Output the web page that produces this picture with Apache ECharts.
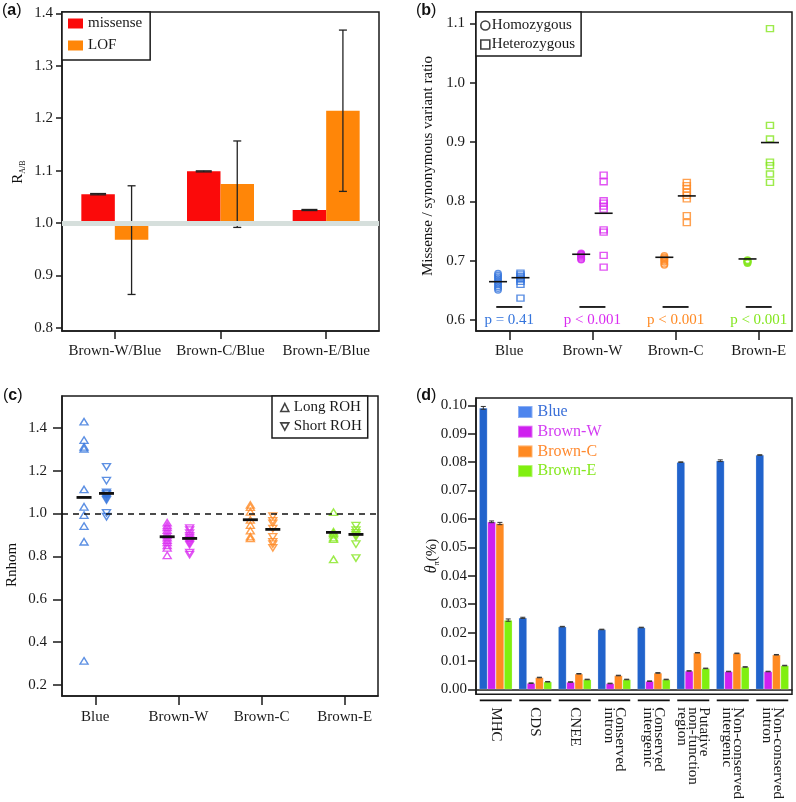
<!DOCTYPE html>
<html><head><meta charset="utf-8">
<script src="https://cdn.jsdelivr.net/npm/echarts@6/dist/echarts.min.js"></script>
<style>html,body{margin:0;padding:0;background:#fff}#c{width:796px;height:802px}</style>
</head><body><div id="c"></div>
<script>
// ---------- Panel (a) ----------
const ratioCats = ['Brown-W/Blue', 'Brown-C/Blue', 'Brown-E/Blue'];
const missenseR = [1.055, 1.0985, 1.0248];
const missenseErr = [0.0012, 0.0010, 0.0010];
const lofR = [0.968, 1.0744, 1.2143];
const lofLow = [0.8637, 0.9916, 1.0603];
const lofHigh = [1.071, 1.1565, 1.368];
const ratioTicksA = [0.8, 0.9, 1.0, 1.1, 1.2, 1.3, 1.4];

// ---------- Panel (b) ----------
const popGroups = ['Blue', 'Brown-W', 'Brown-C', 'Brown-E'];
const homRatioBlue = [0.678, 0.675, 0.672, 0.669, 0.666, 0.663, 0.660, 0.657, 0.654, 0.651];
const homRatioBrownW = [0.712, 0.711, 0.710, 0.709, 0.707, 0.705, 0.703, 0.702];
const homRatioBrownC = [0.708, 0.706, 0.704, 0.702, 0.700, 0.698, 0.695, 0.693];
const homRatioBrownE = [0.701, 0.700, 0.699, 0.698, 0.697, 0.696];
const hetRatioBlue = [0.679, 0.676, 0.673, 0.671, 0.669, 0.665, 0.660, 0.637];
const hetRatioBrownW = [0.844, 0.833, 0.801, 0.797, 0.792, 0.787, 0.752, 0.748, 0.709, 0.689];
const hetRatioBrownC = [0.832, 0.8265, 0.821, 0.815, 0.810, 0.804, 0.776, 0.764];
const hetRatioBrownE = [1.091, 0.928, 0.905, 0.866, 0.860, 0.846, 0.832];
const homMedian = [0.6646, 0.7108, 0.7057, 0.7029];
const hetMedian = [0.6713, 0.7799, 0.8091, 0.8990];
const pLabels = ['p = 0.41', 'p < 0.001', 'p < 0.001', 'p < 0.001'];
const ratioTicksB = [0.6, 0.7, 0.8, 0.9, 1.0, 1.1];

// ---------- Panel (c) ----------
const longROHBlue = [1.428, 1.3425, 1.311, 1.302, 1.1124, 1.0315, 0.9927, 0.9414, 0.8683, 0.3132];
const longROHBrownW = [0.957, 0.945, 0.935, 0.922, 0.910, 0.898, 0.888, 0.876, 0.865, 0.852, 0.840, 0.805];
const longROHBrownC = [1.040, 1.030, 1.008, 0.970, 0.946, 0.920, 0.892, 0.884];
const longROHBrownE = [1.006, 0.915, 0.908, 0.902, 0.888, 0.881, 0.786];
const shortROHBlue = [1.218, 1.153, 1.098, 1.092, 1.085, 1.078, 1.070, 1.063, 1.003, 0.985];
const shortROHBrownW = [0.932, 0.922, 0.908, 0.896, 0.888, 0.878, 0.870, 0.862, 0.855, 0.818, 0.808];
const shortROHBrownC = [0.988, 0.966, 0.954, 0.930, 0.891, 0.868, 0.857, 0.840];
const shortROHBrownE = [0.943, 0.923, 0.910, 0.900, 0.892, 0.857, 0.792];
const longMedian = [1.075, 0.8916, 0.971, 0.912];
const shortMedian = [1.0937, 0.8838, 0.926, 0.9025];
const rnhomTicks = [0.2, 0.4, 0.6, 0.8, 1.0, 1.2, 1.4];

// ---------- Panel (d) ----------
const regionCats = ['MHC', 'CDS', 'CNEE', 'Conserved\nintron', 'Conserved\nintergenic',
  'Putative\nnon-function\nregion', 'Non-conserved\nintergenic', 'Non-conserved\nintron'];
const piBlue = [0.0991, 0.0252, 0.0221, 0.0211, 0.0218, 0.0800, 0.0805, 0.0825];
const piBrownW = [0.0590, 0.0022, 0.0026, 0.0021, 0.0029, 0.0065, 0.0063, 0.0063];
const piBrownC = [0.0584, 0.0042, 0.0055, 0.0049, 0.0058, 0.0129, 0.0127, 0.0122];
const piBrownE = [0.0244, 0.0027, 0.0035, 0.0035, 0.0035, 0.0074, 0.0079, 0.0084];
const errBlue = [0.0005, 0.0002, 0.0001, 0.0001, 0.0001, 0.0001, 0.0003, 0.0001];
const errBrownW = [0.0003, 0.0001, 0.0001, 0.0001, 0.0001, 0.0001, 0.0001, 0.0001];
const errBrownC = [0.0004, 0.0001, 0.0001, 0.0001, 0.0001, 0.0001, 0.0001, 0.0001];
const errBrownE = [0.0004, 0.0001, 0.0001, 0.0001, 0.0001, 0.0001, 0.0001, 0.0001];
const piTicks = [0, 0.01, 0.02, 0.03, 0.04, 0.05, 0.06, 0.07, 0.08, 0.09, 0.10];

// ---------- styles ----------
const SERIF = '"Liberation Serif", "Times New Roman", serif';
const SANS = '"Liberation Sans", Arial, sans-serif';
const INK = '#1a1a1a';
const groupColors = ['#3474dc', '#d92cf0', '#ff8a24', '#84e61e'];
const barColorsD = ['#2163cc', '#cf20ef', '#ff8a22', '#80ef10'];
const legendColorsD = ['#4d85ee', '#cf20ef', '#ff8a22', '#80ef10'];
const textColorsD = ['#3a6fd8', '#d33cf2', '#ff8a30', '#86e81e'];
const redA = '#fb0a0a', orangeA = '#ff8608';
const ptOffset = 0.135;

const chart = echarts.init(document.getElementById('c'), null, {renderer: 'canvas'});

function yAxisDef(grid, min, max, ticks, digits, margin, tickLen) {
  return {
    type: 'value', gridIndex: grid, min: min, max: max,
    axisLine: {show: true, lineStyle: {color: INK, width: 1.5}},
    axisTick: {show: true, customValues: ticks, length: tickLen, lineStyle: {color: INK, width: 1.5}},
    axisLabel: {customValues: ticks, formatter: v => v.toFixed(digits), fontFamily: SERIF, fontSize: 15, color: INK, margin: margin},
    splitLine: {show: false}
  };
}
function groupXAxis(grid, margin) {
  return {
    type: 'value', gridIndex: grid, min: 0.6, max: 4.4,
    axisLine: {show: true, onZero: false, lineStyle: {color: INK, width: 1.5}},
    axisTick: {show: true, customValues: [1, 2, 3, 4], length: 9, lineStyle: {color: INK, width: 1.5}},
    axisLabel: {customValues: [1, 2, 3, 4], formatter: v => popGroups[Math.round(v) - 1], fontFamily: SERIF, fontSize: 15, color: INK, margin: margin},
    splitLine: {show: false}
  };
}
function hSeg(halfW, lw) {
  return function (params, api) {
    const p = api.coord([api.value(0), api.value(1)]);
    return {type: 'line', shape: {x1: p[0] - halfW, y1: p[1], x2: p[0] + halfW, y2: p[1]},
      style: {stroke: '#111', lineWidth: lw}};
  };
}
function pointsFor(arrs, off) {
  const out = [];
  arrs.forEach((arr, gi) => arr.forEach(v => out.push({value: [gi + 1 + off, v], itemStyle: {borderColor: groupColors[gi]}})));
  return out;
}

// (a) bars via custom series from baseline 1.0
function barA(side) {
  return function (params, api) {
    const i = api.value(0), v = api.value(1);
    const band = api.size([1, 0])[0];
    const w = band * 0.317;
    const top = api.coord([i, v]), base = api.coord([i, 1.0]);
    const x = side < 0 ? top[0] - w : top[0];
    return {type: 'rect', shape: {x: x, y: Math.min(top[1], base[1]), width: w, height: Math.abs(top[1] - base[1])},
      style: {fill: api.visual('color')}};
  };
}
function errA(side, capHalf) {
  return function (params, api) {
    const i = api.value(0);
    const band = api.size([1, 0])[0];
    const dx = side * band * 0.1585;
    const lo = api.coord([i, api.value(1)]), hi = api.coord([i, api.value(2)]);
    const x = lo[0] + dx;
    const st = {stroke: '#222', lineWidth: 1.3};
    return {type: 'group', children: [
      {type: 'line', shape: {x1: x, y1: lo[1], x2: x, y2: hi[1]}, style: st},
      {type: 'line', shape: {x1: x - capHalf, y1: lo[1], x2: x + capHalf, y2: lo[1]}, style: st},
      {type: 'line', shape: {x1: x - capHalf, y1: hi[1], x2: x + capHalf, y2: hi[1]}, style: st}
    ]};
  };
}
// (d) error bars
const piSeries = [piBlue, piBrownW, piBrownC, piBrownE];
const errSeries = [errBlue, errBrownW, errBrownC, errBrownE];
const barWD = 8.3;
const errDData = [];
piSeries.forEach((arr, s) => arr.forEach((v, i) => errDData.push([i, v - errSeries[s][i], v + errSeries[s][i], s])));

const option = {
  animation: false,
  backgroundColor: '#fff',
  grid: [
    {left: 62, top: 12, width: 317, height: 319, show: true, borderColor: INK, borderWidth: 1.5, backgroundColor: 'transparent'},
    {left: 476, top: 12, width: 316, height: 319, show: true, borderColor: INK, borderWidth: 1.5, backgroundColor: 'transparent'},
    {left: 62, top: 396, width: 316, height: 300, show: true, borderColor: INK, borderWidth: 1.5, backgroundColor: 'transparent'},
    {left: 476, top: 398, width: 316, height: 300, show: true, borderColor: INK, borderWidth: 1.5, backgroundColor: 'transparent'}
  ],
  xAxis: [
    {type: 'category', gridIndex: 0, data: ratioCats,
      axisLine: {show: true, lineStyle: {color: INK, width: 1.5}},
      axisTick: {show: true, alignWithLabel: true, interval: 0, length: 8, lineStyle: {color: INK, width: 1.5}},
      axisLabel: {interval: 0, hideOverlap: false, fontFamily: SERIF, fontSize: 15, color: INK, margin: 13}},
    groupXAxis(1, 13),
    groupXAxis(2, 14),
    {type: 'category', gridIndex: 3, data: regionCats,
      axisLine: {show: true, lineStyle: {color: INK, width: 1.5}},
      axisTick: {show: false},
      axisLabel: {rotate: -90, interval: 0, fontFamily: SERIF, fontSize: 15, lineHeight: 11, color: INK, margin: 13, align: 'left'}}
  ],
  yAxis: [
    yAxisDef(0, 0.794, 1.4025, ratioTicksA, 1, 9, 6),
    yAxisDef(1, 0.5815, 1.119, ratioTicksB, 1, 11, 6),
    yAxisDef(2, 0.149, 1.548, rnhomTicks, 1, 15, 9),
    yAxisDef(3, -0.00174, 0.10258, piTicks, 2, 9, 8)
  ],
  legend: [
    {left: 62, top: 12, orient: 'vertical', padding: [4, 8, 7, 6], itemGap: 7, itemWidth: 15, itemHeight: 10,
      borderColor: INK, borderWidth: 1.5, backgroundColor: '#fff', selectedMode: false,
      textStyle: {fontFamily: SERIF, fontSize: 15, color: INK},
      data: [{name: 'missense', icon: 'rect', itemStyle: {color: redA}}, {name: 'LOF', icon: 'rect', itemStyle: {color: orangeA}}]},
    {left: 476, top: 12, orient: 'vertical', padding: [6, 6, 4, 4], itemGap: 4, itemWidth: 9, itemHeight: 9,
      borderColor: INK, borderWidth: 1.5, backgroundColor: '#fff', selectedMode: false,
      textStyle: {fontFamily: SERIF, fontSize: 15, color: INK, padding: [0, 0, 0, -3]},
      data: [{name: 'Homozygous', icon: 'circle', itemStyle: {color: 'rgba(0,0,0,0)', borderColor: '#111', borderWidth: 1.6}},
             {name: 'Heterozygous', icon: 'rect', itemStyle: {color: 'rgba(0,0,0,0)', borderColor: '#111', borderWidth: 1.6}}]},
    {left: 272, top: 396, orient: 'vertical', padding: [4, 6, 4, 8], itemGap: 4, itemWidth: 8, itemHeight: 8,
      borderColor: INK, borderWidth: 1.5, backgroundColor: '#fff', selectedMode: false,
      textStyle: {fontFamily: SERIF, fontSize: 15, color: INK, lineHeight: 12},
      data: [{name: 'Long ROH', icon: 'triangle', itemStyle: {color: 'rgba(0,0,0,0)', borderColor: '#111', borderWidth: 1.6}},
             {name: 'Short ROH', icon: 'path://M0,0L10,0L5,9Z', itemStyle: {color: 'rgba(0,0,0,0)', borderColor: '#111', borderWidth: 1.6}}]},
    {left: 517, top: 404, orient: 'vertical', padding: 0, itemGap: 3.7, itemWidth: 14.5, itemHeight: 12, selectedMode: false,
      textStyle: {fontFamily: SERIF, fontSize: 16},
      data: popGroups.map((g, i) => ({name: g, icon: 'rect', itemStyle: {color: legendColorsD[i]}, textStyle: {color: textColorsD[i]}}))}
  ],
  series: [
    // ---- (a)
    {type: 'custom', name: 'missense', xAxisIndex: 0, yAxisIndex: 0, clip: true, z: 2,
      itemStyle: {color: redA}, renderItem: barA(-1), encode: {x: 0, y: 1},
      data: ratioCats.map((c, i) => [i, missenseR[i]])},
    {type: 'custom', name: 'LOF', xAxisIndex: 0, yAxisIndex: 0, clip: true, z: 2,
      itemStyle: {color: orangeA}, renderItem: barA(1), encode: {x: 0, y: 1},
      data: ratioCats.map((c, i) => [i, lofR[i]])},
    {type: 'scatter', name: 'refA', xAxisIndex: 0, yAxisIndex: 0, data: [], z: 3,
      markLine: {silent: true, symbol: 'none', label: {show: false}, animation: false,
        lineStyle: {color: '#d6dfdc', width: 5, type: 'solid'}, data: [{yAxis: 1.0}]}},
    {type: 'custom', name: 'errMis', xAxisIndex: 0, yAxisIndex: 0, z: 4, renderItem: errA(-1, 8), encode: {x: 0, y: [1, 2]},
      data: ratioCats.map((c, i) => [i, missenseR[i] - missenseErr[i], missenseR[i] + missenseErr[i]])},
    {type: 'custom', name: 'errLOF', xAxisIndex: 0, yAxisIndex: 0, z: 4, renderItem: errA(1, 4), encode: {x: 0, y: [1, 2]},
      data: ratioCats.map((c, i) => [i, lofLow[i], lofHigh[i]])},
    // ---- (b)
    {type: 'scatter', name: 'Homozygous', xAxisIndex: 1, yAxisIndex: 1, symbol: 'circle', symbolSize: 6.5, z: 2,
      itemStyle: {color: 'rgba(0,0,0,0)', borderColor: '#111', borderWidth: 1.4},
      data: pointsFor([homRatioBlue, homRatioBrownW, homRatioBrownC, homRatioBrownE], -ptOffset)},
    {type: 'scatter', name: 'Heterozygous', xAxisIndex: 1, yAxisIndex: 1, symbol: 'rect', symbolSize: [7, 6], z: 2,
      itemStyle: {color: 'rgba(0,0,0,0)', borderColor: '#111', borderWidth: 1.4},
      data: pointsFor([hetRatioBlue, hetRatioBrownW, hetRatioBrownC, hetRatioBrownE], ptOffset)},
    {type: 'custom', name: 'medB', xAxisIndex: 1, yAxisIndex: 1, z: 5, renderItem: hSeg(9, 1.6), encode: {x: 0, y: 1},
      data: homMedian.map((v, i) => [i + 1 - ptOffset, v]).concat(hetMedian.map((v, i) => [i + 1 + ptOffset, v]))},
    {type: 'custom', name: 'sigB', xAxisIndex: 1, yAxisIndex: 1, z: 5, clip: false, encode: {x: 0, y: 1},
      renderItem: function (params, api) {
        const i = params.dataIndex;
        const p = api.coord([api.value(0), api.value(1)]);
        const t = api.coord([api.value(0), api.value(2)]);
        return {type: 'group', children: [
          {type: 'line', shape: {x1: p[0] - 13, y1: p[1], x2: p[0] + 13, y2: p[1]}, style: {stroke: '#111', lineWidth: 1.8}},
          {type: 'text', x: t[0], y: t[1], style: {text: pLabels[i], fill: groupColors[i], font: '15px ' + SERIF, align: 'center', verticalAlign: 'middle'}}
        ]};
      },
      data: popGroups.map((g, i) => [i + 1, 0.622, 0.6])},
    // ---- (c)
    {type: 'scatter', name: 'Long ROH', xAxisIndex: 2, yAxisIndex: 2, symbol: 'triangle', symbolSize: [8, 6.5], z: 2,
      itemStyle: {color: 'rgba(0,0,0,0)', borderColor: '#111', borderWidth: 1.4},
      data: pointsFor([longROHBlue, longROHBrownW, longROHBrownC, longROHBrownE], -ptOffset),
      markLine: {silent: true, symbol: 'none', label: {show: false}, animation: false,
        lineStyle: {color: '#111', width: 1.5, type: [6, 5]}, data: [{yAxis: 1.0}]}},
    {type: 'scatter', name: 'Short ROH', xAxisIndex: 2, yAxisIndex: 2, symbol: 'triangle', symbolRotate: 180, symbolSize: [8, 6.5], z: 2,
      itemStyle: {color: 'rgba(0,0,0,0)', borderColor: '#111', borderWidth: 1.4},
      data: pointsFor([shortROHBlue, shortROHBrownW, shortROHBrownC, shortROHBrownE], ptOffset)},
    {type: 'custom', name: 'medC', xAxisIndex: 2, yAxisIndex: 2, z: 5, renderItem: hSeg(7.5, 2.8), encode: {x: 0, y: 1},
      data: longMedian.map((v, i) => [i + 1 - ptOffset, v]).concat(shortMedian.map((v, i) => [i + 1 + ptOffset, v]))},
    // ---- (d)
    ...popGroups.map((g, s) => ({
      type: 'bar', name: g, xAxisIndex: 3, yAxisIndex: 3, barWidth: barWD, barGap: '0%', z: 2,
      itemStyle: {color: barColorsD[s], borderColor: 'rgba(255,255,255,0.35)', borderWidth: 0.6},
      data: piSeries[s]
    })),
    {type: 'custom', name: 'errD', xAxisIndex: 3, yAxisIndex: 3, z: 4, encode: {x: 0, y: [1, 2]},
      renderItem: function (params, api) {
        const i = api.value(0), s = api.value(3);
        const lo = api.coord([i, api.value(1)]), hi = api.coord([i, api.value(2)]);
        const x = lo[0] + (s - 1.5) * barWD;
        const st = {stroke: '#333', lineWidth: 1};
        return {type: 'group', children: [
          {type: 'line', shape: {x1: x, y1: lo[1], x2: x, y2: hi[1]}, style: st},
          {type: 'line', shape: {x1: x - 2.5, y1: lo[1], x2: x + 2.5, y2: lo[1]}, style: st},
          {type: 'line', shape: {x1: x - 2.5, y1: hi[1], x2: x + 2.5, y2: hi[1]}, style: st}
        ]};
      },
      data: errDData},
    {type: 'custom', name: 'groupLines', xAxisIndex: 3, yAxisIndex: 3, z: 4, clip: false, encode: {x: 0},
      renderItem: function (params, api) {
        const p = api.coord([api.value(0), -0.00174]);
        return {type: 'line', shape: {x1: p[0] - 16, y1: p[1] + 6, x2: p[0] + 16, y2: p[1] + 6}, style: {stroke: '#111', lineWidth: 1.6}};
      },
      data: regionCats.map((c, i) => [i])}
  ],
  graphic: [
    {type: 'text', left: 2, top: 3, style: {text: '{p|(}{b|a}{p|)}', rich: {p: {fontFamily: SANS, fontSize: 16, fill: '#111'}, b: {fontFamily: SANS, fontSize: 16, fontWeight: 'bold', fill: '#111'}}}},
    {type: 'text', left: 416, top: 3, style: {text: '{p|(}{b|b}{p|)}', rich: {p: {fontFamily: SANS, fontSize: 16, fill: '#111'}, b: {fontFamily: SANS, fontSize: 16, fontWeight: 'bold', fill: '#111'}}}},
    {type: 'text', left: 3, top: 388, style: {text: '{p|(}{b|c}{p|)}', rich: {p: {fontFamily: SANS, fontSize: 16, fill: '#111'}, b: {fontFamily: SANS, fontSize: 16, fontWeight: 'bold', fill: '#111'}}}},
    {type: 'text', left: 416, top: 388, style: {text: '{p|(}{b|d}{p|)}', rich: {p: {fontFamily: SANS, fontSize: 16, fill: '#111'}, b: {fontFamily: SANS, fontSize: 16, fontWeight: 'bold', fill: '#111'}}}},
    {type: 'text', x: 18, y: 172, rotation: Math.PI / 2,
      style: {text: '{r|R}{s|A/B}', align: 'center', verticalAlign: 'middle',
        rich: {r: {fontFamily: SERIF, fontSize: 15, fill: '#111', lineHeight: 18}, s: {fontFamily: SERIF, fontSize: 8, fill: '#111', lineHeight: 18, verticalAlign: 'bottom', padding: [6, 0, 0, 0]}}}},
    {type: 'text', x: 428, y: 166, rotation: Math.PI / 2,
      style: {text: 'Missense / synonymous variant ratio', align: 'center', verticalAlign: 'middle', font: '15px ' + SERIF, fill: '#111'}},
    {type: 'text', x: 12, y: 565, rotation: Math.PI / 2,
      style: {text: 'Rnhom', align: 'center', verticalAlign: 'middle', font: '15px ' + SERIF, fill: '#111'}},
    {type: 'text', x: 432, y: 556, rotation: Math.PI / 2,
      style: {text: '{t|θ}{s|π}{r|(%)}', align: 'center', verticalAlign: 'middle',
        rich: {t: {fontFamily: SERIF, fontSize: 16, fontStyle: 'italic', fill: '#111', lineHeight: 18},
               s: {fontFamily: SERIF, fontSize: 8, fill: '#111', lineHeight: 18, verticalAlign: 'bottom', padding: [6, 0, 0, 0]},
               r: {fontFamily: SERIF, fontSize: 15, fill: '#111', lineHeight: 18}}}}
  ]
};
chart.setOption(option);
</script>
</body></html>
